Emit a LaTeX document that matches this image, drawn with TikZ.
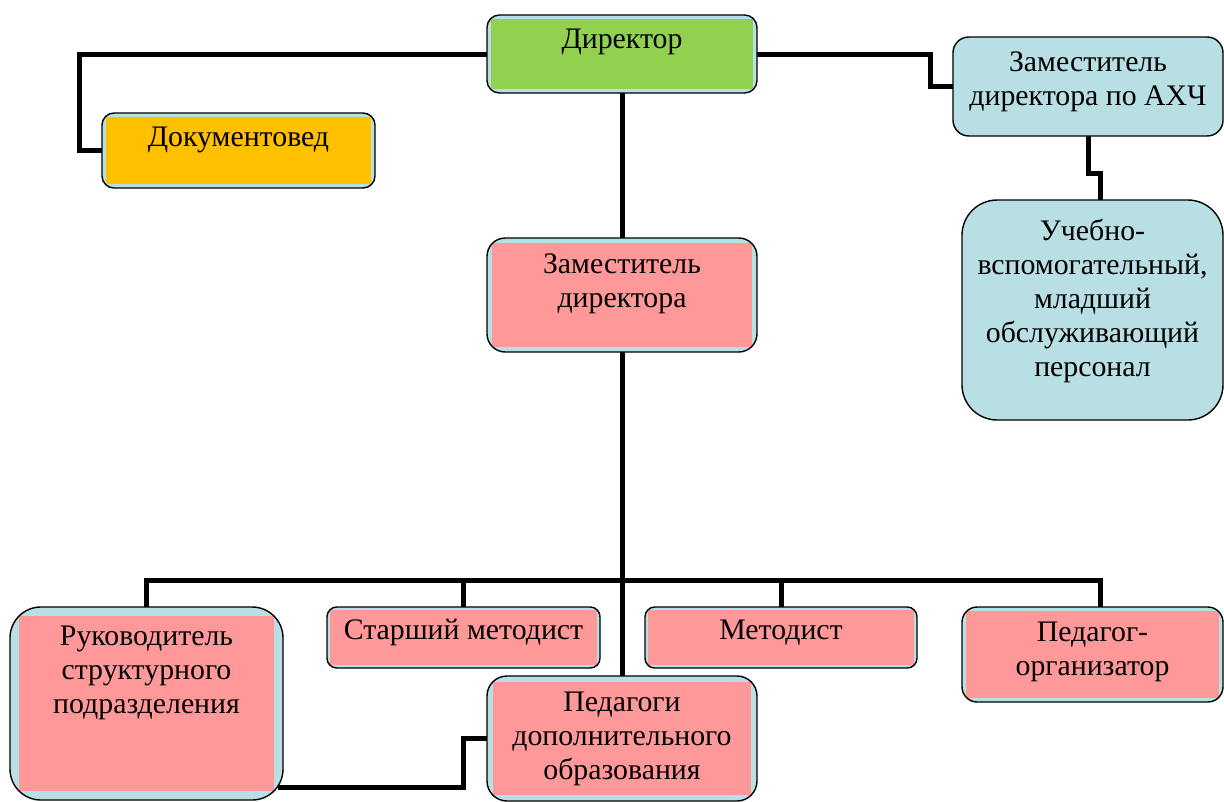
\documentclass[tikz,border=0pt]{standalone}
\usepackage{fontspec}
\setmainfont{Liberation Serif}
\usetikzlibrary{backgrounds}
\definecolor{lb}{HTML}{B8DFE3}
\definecolor{gr}{HTML}{92D050}
\definecolor{og}{HTML}{FFC000}
\definecolor{pk}{HTML}{FF9999}
\newcommand\obox[7]{%
  \pgfmathsetmacro\bw{#4-#2}\pgfmathsetmacro\bh{#5-#3}%
  \pgfmathsetmacro\rr{0.16*min(\bw,\bh)}\pgfmathsetmacro\ii{0.2929*\rr}%
  \pgfmathsetmacro\vs{\ii+6}%
  \node[orgbox, rounded corners=\rr pt,
    path picture={\fill[#6, sharp corners] ([shift={(\ii pt,-\ii pt)}]path picture bounding box.north west) rectangle ([shift={(-\ii pt,\ii pt)}]path picture bounding box.south east);}]
    (#1) at ({(#2+#4)/2},{-(#3+#5)/2})
    {\parbox[c][\bh pt][t]{\bw pt}{\centering\fontsize{29.8}{34}\selectfont\vspace*{\vs pt}\strut #7\par}};%
}
\begin{document}
\begin{tikzpicture}[x=1pt,y=1pt,
  conn/.style={line width=5pt, line join=miter, draw=black},
  orgbox/.style={draw=black, line width=1.4pt, fill=lb, inner sep=0pt, outer sep=0pt}]
\useasboundingbox (0,0) rectangle (1224,-801);
% boxes
\obox{dir}{487}{15}{757}{93}{gr}{Директор}
\obox{doc}{102}{113}{375}{188}{og}{Документовед}
\obox{axc}{953}{37}{1223}{136}{lb}{Заместитель\\директора по АХЧ}
\obox{uch}{962}{200}{1223}{420}{lb}{Учебно-\\вспомогательный,\\младший\\обслуживающий\\персонал}
\obox{zam}{487}{238}{757}{352}{pk}{Заместитель\\директора}
\obox{ruk}{10}{607}{283}{800}{pk}{Руководитель\\структурного\\подразделения}
\obox{smet}{327}{607}{600}{668}{pk}{Старший методист}
\obox{met}{645}{607}{917}{668}{pk}{Методист}
\obox{porg}{962}{607}{1223}{702}{pk}{Педагог-\\организатор}
\obox{ped}{487}{676}{757}{801}{pk}{Педагоги\\дополнительного\\образования}
\coordinate (bus) at (622,-580);
\begin{scope}[on background layer]
\fill[white] (0,0) rectangle (1224,-801);
\draw[conn] (dir.west) -| ([xshift=-22.5pt]doc.west) -- (doc.west);
\draw[conn] (dir.east) -| ([xshift=-23pt]axc.west) -- (axc.west);
\draw[conn] (axc.south) -- ++(0,-37) -| ([xshift=7.5pt]uch.north);
\draw[conn] (dir.south) -- (zam.north);
\draw[conn] (zam.south) -- (ped.north);
\draw[conn] (ruk.north) |- (bus) -| ([xshift=7.5pt]porg.north);
\draw[conn] (smet.north) -- (smet.north |- bus);
\draw[conn] (met.north) -- (met.north |- bus);
\draw[conn] ([shift={(-5pt,-83.5pt)}]ruk.east) -| ([xshift=-24pt]ped.west) -- (ped.west);
\end{scope}
\end{tikzpicture}
\end{document}
